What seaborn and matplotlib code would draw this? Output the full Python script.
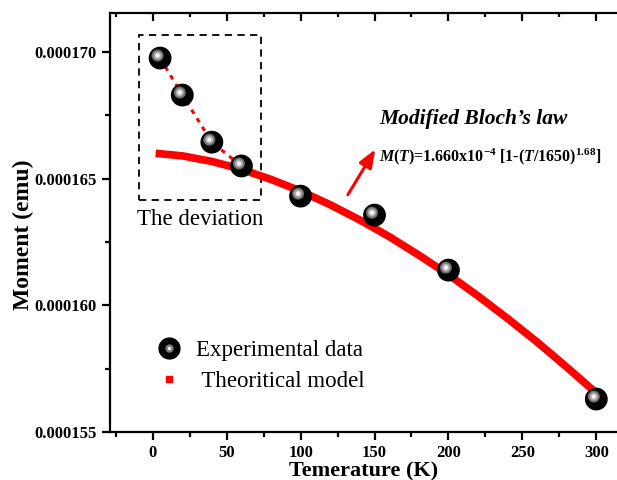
import numpy as np
import pandas as pd
import matplotlib.pyplot as plt
import matplotlib.transforms as mtransforms
from matplotlib.lines import Line2D
from matplotlib.patches import Rectangle
from matplotlib.legend_handler import HandlerTuple
from matplotlib.ticker import MultipleLocator, FormatStrFormatter
import seaborn as sns

sns.set_theme(style="ticks")
plt.rcParams['font.family'] = ['Liberation Serif', 'DejaVu Serif']
plt.rcParams['mathtext.fontset'] = 'custom'
plt.rcParams['mathtext.rm'] = 'Liberation Serif:bold'
plt.rcParams['mathtext.it'] = 'Liberation Serif:italic:bold'
plt.rcParams['mathtext.bf'] = 'Liberation Serif:bold'
for k in ['text.color', 'axes.labelcolor', 'xtick.color', 'ytick.color']:
    plt.rcParams[k] = 'black'

temp_exp = [5, 20, 40, 60, 100, 150, 200, 300]
moment_exp = [1.6976e-4, 1.6830e-4, 1.6644e-4, 1.6550e-4, 1.6431e-4, 1.6356e-4, 1.6139e-4, 1.5630e-4]

# theoretical curve
temp_model = [2, 20, 40, 60, 80, 100, 120, 140, 160, 180, 200, 220, 240, 260, 280, 300]
moment_model = [1.6600e-4, 1.6590e-4, 1.6568e-4, 1.6537e-4, 1.6497e-4, 1.6451e-4, 1.6397e-4,
                1.6337e-4, 1.6271e-4, 1.6198e-4, 1.6121e-4, 1.6037e-4, 1.5948e-4, 1.5855e-4,
                1.5756e-4, 1.5654e-4]

df_exp = pd.DataFrame({'T': temp_exp, 'M': moment_exp})
df_model = pd.DataFrame({'T': temp_model, 'M': moment_model})
df_dev = df_exp[df_exp['T'] <= 60]

fig = plt.figure(figsize=(6.17, 4.8), dpi=100)
ax = fig.add_axes([0.178, 0.1, 0.822, 0.873])

# model curve
sns.lineplot(data=df_model, x='T', y='M', color='red', linewidth=5.5, ax=ax,
             solid_capstyle='butt', zorder=2)
# dotted line through the low-T points
sns.lineplot(data=df_dev, x='T', y='M', color='red', linewidth=2.2, linestyle=(0, (1.5, 1.8)),
             ax=ax, zorder=3)

# sphere-like markers
sns.scatterplot(data=df_exp, x='T', y='M', color='black', s=270, edgecolor='none', ax=ax, zorder=4)
hl = mtransforms.offset_copy(ax.transData, fig=fig, x=-2.5, y=2.5, units='dots')
ax.scatter(df_exp['T'], df_exp['M'], s=75, color='#6e6e6e', edgecolor='none', transform=hl, zorder=5)
ax.scatter(df_exp['T'], df_exp['M'], s=35, color='#b0b0b0', edgecolor='none', transform=hl, zorder=6)
ax.scatter(df_exp['T'], df_exp['M'], s=10, color='#f4f4f4', edgecolor='none', transform=hl, zorder=7)

# dashed box and label
ax.add_patch(Rectangle((-9.5, 1.6416e-4), 82.5, 0.651e-5, fill=False, edgecolor='black',
                       linestyle=(0, (4, 3)), linewidth=1.3, zorder=1))
ax.text(32, 1.6339e-4, 'The deviation', ha='center', va='center', fontsize=16.5)

# arrow
ax.annotate('', xy=(151.5, 1.6625e-4), xytext=(131, 1.6427e-4),
            arrowprops=dict(arrowstyle='-|>,head_length=0.9,head_width=0.35', color='red', lw=2.2))

ax.text(153, 1.6737e-4, 'Modified Bloch\u2019s law', fontsize=15.5, fontweight='bold', style='italic',
        ha='left', va='center')
ax.text(153, 1.6587e-4,
        r'$\mathit{M}$($\mathit{T}$)=1.660x10$^{-4}$ [1-($\mathit{T}$/1650)$^{1.68}$]',
        fontsize=11.5, fontweight='bold', ha='left', va='center')

# legend
ball = (Line2D([], [], marker='o', color='black', markersize=15, linestyle='none'),
        Line2D([], [], marker='o', color='#7a7a7a', markersize=6, markeredgewidth=0, linestyle='none'),
        Line2D([], [], marker='o', color='#f0f0f0', markersize=2.5, markeredgewidth=0, linestyle='none'))
square = Line2D([], [], marker='s', color='red', markersize=5, linestyle='none')
ax.legend([ball, square], ['Experimental data', ' Theoritical model'], loc='upper left',
          bbox_to_anchor=(0.03, 0.27), frameon=False, fontsize=16.5, labelspacing=0.45,
          handletextpad=0.2, handler_map={tuple: HandlerTuple(ndivide=1, pad=0)})

ax.set_xlim(-29, 314)
ax.set_ylim(1.55e-4, 1.7154e-4)
ax.xaxis.set_major_locator(MultipleLocator(50))
ax.xaxis.set_minor_locator(MultipleLocator(25))
ax.yaxis.set_major_locator(MultipleLocator(5e-6))
ax.yaxis.set_minor_locator(MultipleLocator(2.5e-6))
ax.yaxis.set_major_formatter(FormatStrFormatter('%.6f'))

for s in ['left', 'bottom', 'top']:
    ax.spines[s].set_linewidth(1.6)
    ax.spines[s].set_color('black')
ax.spines['right'].set_visible(False)
ax.tick_params(axis='both', which='major', direction='out', length=6, width=1.6, labelsize=12)
ax.tick_params(axis='both', which='minor', direction='out', length=3.5, width=1.6)
ax.tick_params(axis='x', which='both', top=False)
for lab in ax.get_xticklabels() + ax.get_yticklabels():
    lab.set_fontweight('bold')

# top ticks point inward
top = ax.twiny()
top.set_xlim(ax.get_xlim())
top.xaxis.set_major_locator(MultipleLocator(50))
top.xaxis.set_minor_locator(MultipleLocator(25))
top.tick_params(axis='x', which='major', direction='in', length=6, width=1.6, labeltop=False)
top.tick_params(axis='x', which='minor', direction='in', length=3, width=1.6)
for s in top.spines.values():
    s.set_visible(False)

ax.set_xlabel('Temerature (K)', fontsize=16, fontweight='bold', labelpad=0)
ax.set_ylabel('Moment (emu)', fontsize=17, fontweight='bold')
ax.yaxis.set_label_coords(-0.15, 0.47)

fig.savefig('out.png', dpi=100)
